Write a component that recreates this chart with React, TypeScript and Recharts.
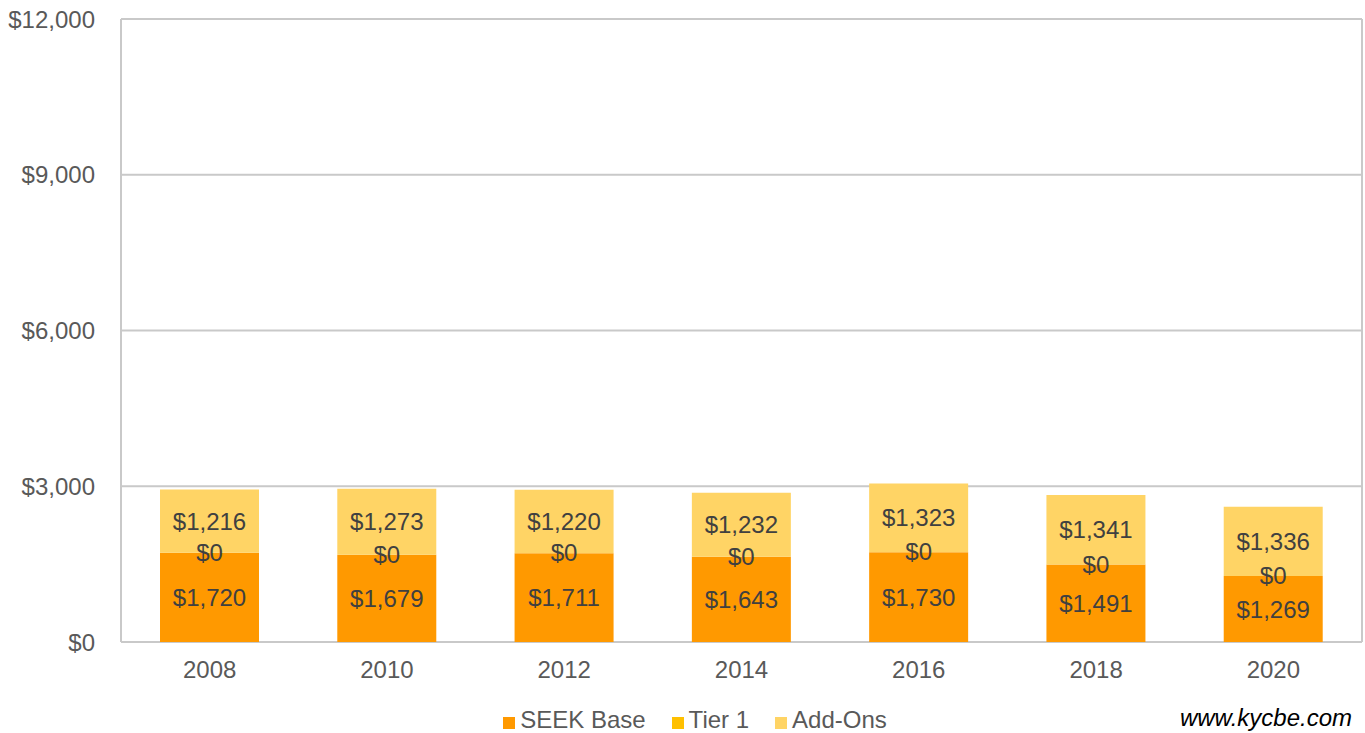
import { BarChart, Bar, XAxis, YAxis, CartesianGrid, LabelList } from 'recharts';

const years = ['2008', '2010', '2012', '2014', '2016', '2018', '2020'];
const seekBase = [1720, 1679, 1711, 1643, 1730, 1491, 1269];
const tier1 = [0, 0, 0, 0, 0, 0, 0];
const addOns = [1216, 1273, 1220, 1232, 1323, 1341, 1336];
const yTicks = [0, 3000, 6000, 9000, 12000];

const series = [
  { key: 'seek', name: 'SEEK Base', color: '#ff9900' },
  { key: 'tier1', name: 'Tier 1', color: '#ffc000' },
  { key: 'addOns', name: 'Add-Ons', color: '#ffd465' },
];

const data = years.map((year, i) => ({
  year,
  seek: seekBase[i],
  tier1: tier1[i],
  addOns: addOns[i],
}));

const money = (v: number) => `$${Number(v).toLocaleString('en-US')}`;

const font = 'Liberation Sans, Arial, sans-serif';
const labelStyle = { fill: '#404040', fontSize: 24, fontFamily: font };
const tickStyle = { fill: '#595959', fontSize: 24, fontFamily: font };

export default function App() {
  return (
    <div style={{ position: 'absolute', left: 0, top: 0, width: 1365, height: 733, fontFamily: font }}>
      <BarChart
        width={1365}
        height={733}
        data={data}
        margin={{ top: 19, right: 3, bottom: 28, left: 0 }}
        barCategoryGap="22%"
      >
        <CartesianGrid
          stroke="#c9c9c9"
          strokeWidth={2}
          verticalCoordinatesGenerator={({ offset }: any) => [offset.left, offset.left + offset.width]}
        />
        <XAxis
          dataKey="year"
          axisLine={false}
          tickLine={false}
          tickSize={0}
          tickMargin={19}
          tick={tickStyle}
          height={63}
        />
        <YAxis
          domain={[0, 12000]}
          ticks={yTicks}
          tickFormatter={money}
          axisLine={false}
          tickLine={false}
          tickSize={0}
          tickMargin={26}
          tick={tickStyle}
          width={121}
        />
        <Bar dataKey="seek" name="SEEK Base" stackId="a" fill="#ff9900" isAnimationActive={false}>
          <LabelList dataKey="seek" position="center" formatter={money} style={labelStyle} />
          {/* Tier 1 is zero everywhere, so its label sits on the top edge of SEEK Base */}
          <LabelList dataKey="tier1" position="insideTop" offset={-9} formatter={money} style={labelStyle} />
        </Bar>
        <Bar dataKey="tier1" name="Tier 1" stackId="a" fill="#ffc000" isAnimationActive={false} />
        <Bar dataKey="addOns" name="Add-Ons" stackId="a" fill="#ffd465" isAnimationActive={false}>
          <LabelList dataKey="addOns" position="center" formatter={money} style={labelStyle} />
        </Bar>
      </BarChart>
      {/* legend */}
      <div
        style={{
          position: 'absolute',
          left: 0,
          top: 706,
          width: 1365,
          paddingLeft: 25,
          boxSizing: 'border-box',
          display: 'flex',
          justifyContent: 'center',
          gap: 26,
          fontSize: 24,
          color: '#595959',
        }}
      >
        {series.map((s) => (
          <div key={s.key} style={{ display: 'flex', alignItems: 'center' }}>
            <span style={{ display: 'inline-block', width: 12, height: 12, background: s.color, marginRight: 5, marginTop: 6 }} />
            <span>{s.name}</span>
          </div>
        ))}
      </div>
      <div
        style={{
          position: 'absolute',
          right: 13,
          top: 704,
          fontSize: 24,
          fontStyle: 'italic',
          color: '#000',
        }}
      >
        www.kycbe.com
      </div>
    </div>
  );
}
